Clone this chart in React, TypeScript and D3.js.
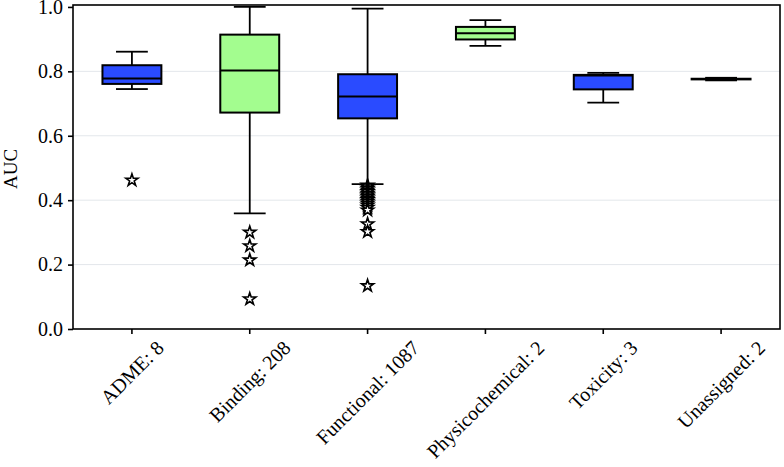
import React, { useRef, useEffect } from 'react';
import * as d3 from 'd3';

const categories = ['ADME: 8', 'Binding: 208', 'Functional: 1087', 'Physicochemical: 2', 'Toxicity: 3', 'Unassigned: 2'];
const whiskerLow = [0.745, 0.359, 0.450, 0.879, 0.703, 0.772];
const q1 = [0.761, 0.672, 0.654, 0.899, 0.744, 0.775];
const medians = [0.778, 0.803, 0.722, 0.918, 0.787, 0.776];
const q3 = [0.819, 0.914, 0.791, 0.938, 0.789, 0.777];
const whiskerHigh = [0.861, 1.0, 0.995, 0.959, 0.795, 0.780];
const outliers = [
  [0.462],
  [0.300, 0.258, 0.214, 0.093],
  [0.446, 0.441, 0.436, 0.431, 0.426, 0.421, 0.416, 0.411, 0.406, 0.401, 0.396, 0.390, 0.384, 0.377, 0.369, 0.326, 0.302, 0.134],
  [],
  [],
  [],
];
const boxColors = ['#2a4bff', '#a3fd8f', '#2a4bff', '#a3fd8f', '#2a4bff', '#2a4bff'];
const yTicks = [0, 0.2, 0.4, 0.6, 0.8, 1.0];

const W = 784, H = 467;
const margin = { left: 73, right: 4, top: 5, bottom: 138 };
const font = '"Liberation Serif", serif';

const App = () => {
  const svgRef = useRef(null);

  useEffect(() => {
    document.body.style.margin = '0';
    const svg = d3.select(svgRef.current);
    svg.selectAll('*').remove();

    const x = d3.scaleBand()
      .domain(categories)
      .range([margin.left, W - margin.right])
      .padding(0);
    const y = d3.scaleLinear()
      .domain([0, 1.006])
      .range([H - margin.bottom, margin.top]);

    const bw = x.bandwidth() * 0.5;
    const cw = x.bandwidth() * 0.27;
    const cx = (c) => x(c) + x.bandwidth() / 2;

    // grid
    svg.append('g')
      .selectAll('line')
      .data(yTicks.filter(t => t > 0 && t < 1))
      .join('line')
        .attr('x1', margin.left)
        .attr('x2', W - margin.right)
        .attr('y1', d => y(d))
        .attr('y2', d => y(d))
        .attr('stroke', '#e3e7eb')
        .attr('stroke-width', 1);

    // y axis
    const yAxis = svg.append('g')
      .attr('transform', `translate(${margin.left},0)`)
      .call(d3.axisLeft(y).tickValues(yTicks).tickFormat(d3.format('.1f')).tickSize(5).tickPadding(5));
    yAxis.select('.domain').remove();
    yAxis.selectAll('line').attr('stroke', '#000').attr('stroke-width', 1.6);
    yAxis.selectAll('text').attr('font-family', font).attr('font-size', 20).attr('fill', '#000');

    // x axis ticks
    const xAxis = svg.append('g')
      .attr('transform', `translate(0,${H - margin.bottom})`)
      .call(d3.axisBottom(x).tickSize(5).tickFormat(''));
    xAxis.select('.domain').remove();
    xAxis.selectAll('line').attr('stroke', '#000').attr('stroke-width', 1.6);

    // x labels, rotated 45 and centered under tick
    categories.forEach((c) => {
      const t = svg.append('text')
        .attr('font-family', font)
        .attr('font-size', 20)
        .attr('text-anchor', 'middle')
        .attr('dominant-baseline', 'central')
        .text(c);
      const len = t.node().getComputedTextLength();
      const h = 15;
      const half = (len + h) / Math.SQRT2 / 2;
      const top = H - margin.bottom + 10;
      t.attr('transform', `translate(${cx(c)},${top + half}) rotate(-45)`);
    });

    // y label
    svg.append('text')
      .attr('font-family', font)
      .attr('font-size', 19)
      .attr('text-anchor', 'middle')
      .attr('transform', `translate(17,${(margin.top + H - margin.bottom) / 2 + 2}) rotate(-90)`)
      .text('AUC');

    // boxes
    const g = svg.append('g');
    categories.forEach((c, i) => {
      const xc = cx(c);
      g.append('line')
        .attr('x1', xc).attr('x2', xc)
        .attr('y1', y(whiskerHigh[i])).attr('y2', y(q3[i]))
        .attr('stroke', '#000').attr('stroke-width', 1.8);
      g.append('line')
        .attr('x1', xc).attr('x2', xc)
        .attr('y1', y(whiskerLow[i])).attr('y2', y(q1[i]))
        .attr('stroke', '#000').attr('stroke-width', 1.8);
      [whiskerHigh[i], whiskerLow[i]].forEach(v => {
        g.append('line')
          .attr('x1', xc - cw / 2).attr('x2', xc + cw / 2)
          .attr('y1', y(v)).attr('y2', y(v))
          .attr('stroke', '#000').attr('stroke-width', 1.8);
      });
      g.append('rect')
        .attr('x', xc - bw / 2)
        .attr('y', y(q3[i]))
        .attr('width', bw)
        .attr('height', Math.max(0.1, y(q1[i]) - y(q3[i])))
        .attr('fill', boxColors[i])
        .attr('stroke', '#000')
        .attr('stroke-width', 2);
      g.append('line')
        .attr('x1', xc - bw / 2).attr('x2', xc + bw / 2)
        .attr('y1', y(medians[i])).attr('y2', y(medians[i]))
        .attr('stroke', '#000').attr('stroke-width', 2);
      g.selectAll(null)
        .data(outliers[i])
        .join('path')
          .attr('d', d3.symbol(d3.symbolStar, 46))
          .attr('transform', d => `translate(${xc},${y(d)})`)
          .attr('fill', '#fff')
          .attr('stroke', '#000')
          .attr('stroke-width', 1.6);
    });

    // frame
    svg.append('rect')
      .attr('x', margin.left)
      .attr('y', margin.top)
      .attr('width', W - margin.left - margin.right)
      .attr('height', H - margin.top - margin.bottom)
      .attr('fill', 'none')
      .attr('stroke', '#000')
      .attr('stroke-width', 1.6);
  }, []);

  return (
    <svg ref={svgRef} width={W} height={H} style={{ display: 'block', background: '#fff' }} />
  );
};

export default App;
